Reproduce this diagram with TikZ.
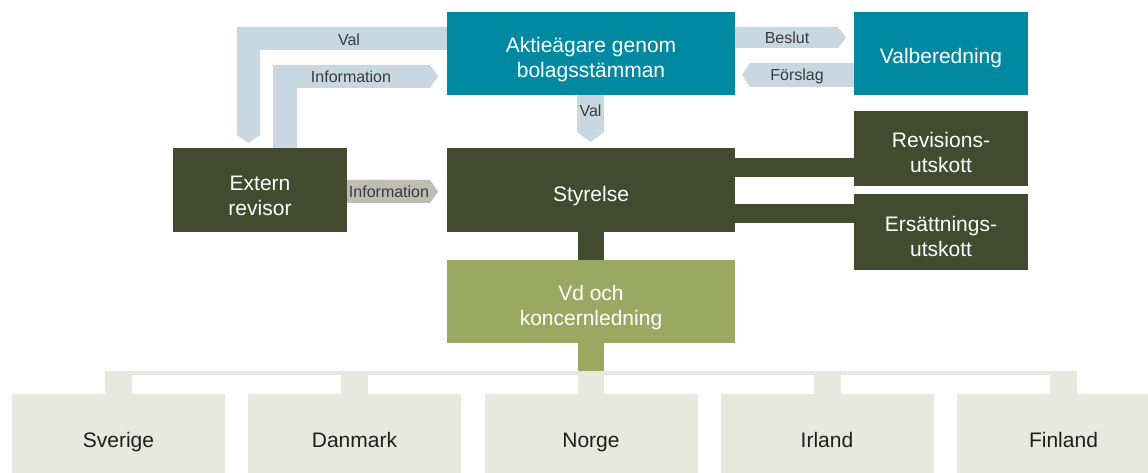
\documentclass[tikz,border=0pt]{standalone}
\usepackage{fontspec}
\setmainfont{Liberation Sans}
\usetikzlibrary{calc}
\definecolor{teal}{HTML}{0089A0}
\definecolor{darkol}{HTML}{424A30}
\definecolor{olgreen}{HTML}{9AA862}
\definecolor{lblue}{HTML}{C8D8E2}
\definecolor{greyarr}{HTML}{BFBCB0}
\definecolor{beige}{HTML}{E8E9DE}
\definecolor{labtxt}{HTML}{3A3A3A}
\tikzset{
  box/.style={rectangle, inner sep=0pt},
  tealbox/.style={box, fill=teal},
  darkbox/.style={box, fill=darkol},
  greenbox/.style={box, fill=olgreen},
  cbox/.style={box, fill=beige, minimum width=213pt, minimum height=79pt},
  txt/.style={anchor=base, inner sep=0pt, text=white, font=\fontsize{21}{25}\selectfont},
  ctxt/.style={txt, text=black!88},
  lab/.style={anchor=base, inner sep=0pt, text=labtxt, font=\fontsize{16}{18}\selectfont},
}
\newcommand{\twolines}[2]{\begin{tabular}[t]{@{}c@{}}#1\\#2\end{tabular}}
\begin{document}
\begin{tikzpicture}[x=1pt,y=-1pt]
\clip (0,0) rectangle (1148,473);
\fill[white] (0,0) rectangle (1148,473);
% boxes
\node[tealbox, minimum width=288pt, minimum height=83pt] (akt) at (591,53.5) {};
\node[tealbox, minimum width=174pt, minimum height=83pt] (valb) at (941,53.5) {};
\node[darkbox, minimum width=174pt, minimum height=84pt] (ext) at (260,190) {};
\node[darkbox, minimum width=288pt, minimum height=84pt] (sty) at (591,190) {};
\node[darkbox, minimum width=174pt, minimum height=75pt] (rev) at (941,148.5) {};
\node[darkbox, minimum width=174pt, minimum height=76pt] (ers) at (941,232) {};
\node[greenbox, minimum width=288pt, minimum height=83pt] (vd) at (591,301.5) {};
\node[cbox] (se) at (118.5,433.5) {};
\node[cbox] (dk) at (354.5,433.5) {};
\node[cbox] (no) at (591,433.5) {};
\node[cbox] (ie) at (827,433.5) {};
\node[cbox] (fi) at (1063.5,433.5) {};
% box texts
\node[txt] (akt-t) at (akt.center |- 0,53) {\twolines{Aktieägare genom}{bolagsstämman}};
\node[txt] (valb-t) at (valb.center |- 0,64) {Valberedning};
\node[txt] (ext-t) at (ext.center |- 0,190) {\twolines{Extern}{revisor}};
\node[txt] (sty-t) at (sty.center |- 0,201) {Styrelse};
\node[txt] (rev-t) at (rev.center |- 0,148) {\twolines{Revisions-}{utskott}};
\node[txt] (ers-t) at (ers.center |- 0,231) {\twolines{Ersättnings-}{utskott}};
\node[txt] (vd-t) at (vd.center |- 0,300) {\twolines{Vd och}{koncernledning}};
\node[ctxt] (se-t) at (se.center |- 0,447) {Sverige};
\node[ctxt] (dk-t) at (dk.center |- 0,447) {Danmark};
\node[ctxt] (no-t) at (no.center |- 0,447) {Norge};
\node[ctxt] (ie-t) at (ie.center |- 0,447) {Irland};
\node[ctxt] (fi-t) at (fi.center |- 0,447) {Finland};
% connectors: Aktieägare -> Extern revisor (Val)
\fill[lblue] (akt.west |- 0,27) -- (237,27) -- (237,135) -- (248.5,143) -- (260,135) -- (260,50) -- (akt.west |- 0,50) -- cycle;
\node[lab] (lval1) at (349,46) {Val};
% Extern revisor -> Aktieägare (Information)
\fill[lblue] (430,65) -- (273,65) -- (273,0 |- ext.north) -- (297,0 |- ext.north) -- (297,88) -- (430,88) -- (438,76.5) -- cycle;
\node[lab] (linf1) at (351,83) {Information};
% Beslut
\fill[lblue] (akt.east |- 0,27) -- (838,27) -- (846,37.5) -- (838,48) -- (akt.east |- 0,48) -- cycle;
\node[lab] (lbes) at (787,43.5) {Beslut};
% Förslag
\fill[lblue] (valb.west |- 0,63) -- (750,63) -- (742,75) -- (750,87) -- (valb.west |- 0,87) -- cycle;
\node[lab] (lfor) at (797,80.5) {Förslag};
% Val down
\fill[lblue] (577,0 |- akt.south) -- (604,0 |- akt.south) -- (604,132) -- (590.5,142) -- (577,132) -- cycle;
\node[lab] (lval2) at (590.5,117) {Val};
% Information grey
\fill[greyarr] (ext.east |- 0,180) -- (430,180) -- (438,191.5) -- (430,203) -- (ext.east |- 0,203) -- cycle;
\node[lab] (linf2) at (389,197) {Information};
% Styrelse -> committees
\fill[darkol] (sty.east |- 0,158) rectangle (rev.west |- 0,177);
\fill[darkol] (sty.east |- 0,204) rectangle (ers.west |- 0,223);
% Styrelse -> Vd
\fill[darkol] (578,0 |- sty.south) rectangle (604,0 |- vd.north);
% Vd -> countries
\fill[olgreen] (578,0 |- vd.south) rectangle (604,373);
\fill[beige] (105,371) rectangle (1076,374.5);
\foreach \c in {se,dk,ie,fi}{
  \fill[beige] ($(\c.north)+(-13.5,-23)$) rectangle ($(\c.north)+(13.5,0)$);
}
\fill[beige] ($(no.north)+(-13,-21)$) rectangle ($(no.north)+(13,0)$);
\end{tikzpicture}
\end{document}
